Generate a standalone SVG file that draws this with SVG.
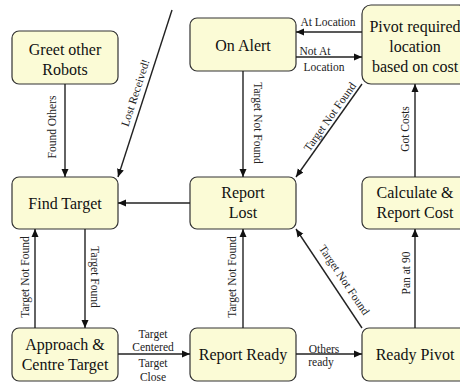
<svg xmlns="http://www.w3.org/2000/svg" width="460" height="383" viewBox="0 0 460 383">
<style>
.box{fill:#fbfbd6;stroke:#333;stroke-width:1.2}
.nt{font-family:'Liberation Serif','Times New Roman',Times,'DejaVu Serif',serif;font-size:16px;fill:#111;text-anchor:middle}
.lb{font-family:'Liberation Serif','Times New Roman',Times,'DejaVu Serif',serif;font-size:11.5px;fill:#222;text-anchor:middle}
.ln{stroke:#222;stroke-width:1.4;fill:none;marker-end:url(#ah)}
</style>
<defs>
<marker id="ah" markerUnits="userSpaceOnUse" markerWidth="9" markerHeight="8" refX="8" refY="4" orient="auto">
<path d="M0,0.5 L8,4 L0,7.5 Z" fill="#111"/>
</marker>
</defs>
<rect width="460" height="383" fill="#fff"/>
<g id="greet"><rect class="box" x="12" y="31" width="106" height="53" rx="7"/><text class="nt" x="65" y="55">Greet other</text><text class="nt" x="65" y="75">Robots</text></g>
<g id="find"><rect class="box" x="12" y="177" width="106" height="52" rx="7"/><text class="nt" x="65" y="209">Find Target</text></g>
<g id="approach"><rect class="box" x="12" y="328" width="106" height="53" rx="7"/><text class="nt" x="65" y="350">Approach &amp;</text><text class="nt" x="65" y="370">Centre Target</text></g>
<g id="onalert"><rect class="box" x="190" y="18" width="106" height="53" rx="7"/><text class="nt" x="243" y="51">On Alert</text></g>
<g id="reportlost"><rect class="box" x="190" y="177" width="106" height="52" rx="7"/><text class="nt" x="243" y="198">Report</text><text class="nt" x="243" y="218">Lost</text></g>
<g id="reportready"><rect class="box" x="190" y="328" width="106" height="53" rx="7"/><text class="nt" x="243" y="360">Report Ready</text></g>
<g id="pivot"><rect class="box" x="362" y="5" width="106" height="79" rx="9"/><text class="nt" x="415" y="32">Pivot required</text><text class="nt" x="415" y="52">location</text><text class="nt" x="415" y="72">based on cost</text></g>
<g id="calc"><rect class="box" x="362" y="177" width="106" height="52" rx="7"/><text class="nt" x="415" y="198">Calculate &amp;</text><text class="nt" x="415" y="218">Report Cost</text></g>
<g id="readypivot"><rect class="box" x="362" y="328" width="106" height="53" rx="7"/><text class="nt" x="415" y="360">Ready Pivot</text></g>
<g id="connectors">
<line class="ln" x1="65" y1="84" x2="65" y2="177"/>
<text class="lb" transform="translate(56,127) rotate(-90)">Found Others</text>
<line class="ln" x1="172" y1="10" x2="118" y2="177"/>
<text class="lb" transform="translate(139,94) rotate(-72)">Lost Received!</text>
<line class="ln" x1="190" y1="203" x2="118" y2="203"/>
<line class="ln" x1="85" y1="229" x2="85" y2="328"/>
<text class="lb" transform="translate(91,277) rotate(90)">Target Found</text>
<line class="ln" x1="35" y1="328" x2="35" y2="229"/>
<text class="lb" transform="translate(29,277) rotate(-90)">Target Not Found</text>
<line class="ln" x1="118" y1="354" x2="190" y2="354"/>
<text class="lb" x="153" y="338">Target</text>
<text class="lb" x="153" y="351">Centered</text>
<text class="lb" x="153" y="367">Target</text>
<text class="lb" x="153" y="381">Close</text>
<line class="ln" x1="243" y1="71" x2="243" y2="177"/>
<text class="lb" transform="translate(254,123) rotate(90)">Target Not Found</text>
<line class="ln" x1="362" y1="32" x2="296" y2="32"/>
<text class="lb" x="328" y="26">At Location</text>
<line class="ln" x1="296" y1="57" x2="362" y2="57"/>
<text class="lb" x="315" y="55">Not At</text>
<text class="lb" x="324" y="71">Location</text>
<line class="ln" x1="362" y1="84" x2="296" y2="177"/>
<text class="lb" transform="translate(333,119) rotate(-54.6)">Target Not Found</text>
<line class="ln" x1="415" y1="177" x2="415" y2="84"/>
<text class="lb" transform="translate(409,129) rotate(-90)">Got Costs</text>
<line class="ln" x1="243" y1="328" x2="243" y2="229"/>
<text class="lb" transform="translate(236,277) rotate(-90)">Target Not Found</text>
<line class="ln" x1="362" y1="328" x2="296" y2="229"/>
<text class="lb" transform="translate(341,282) rotate(56.3)">Target Not Found</text>
<line class="ln" x1="296" y1="354" x2="362" y2="354"/>
<text class="lb" x="324" y="353">Others</text>
<text class="lb" x="321" y="366">ready</text>
<line class="ln" x1="415" y1="328" x2="415" y2="229"/>
<text class="lb" transform="translate(410,273) rotate(-90)">Pan at 90</text>
</g>
</svg>
